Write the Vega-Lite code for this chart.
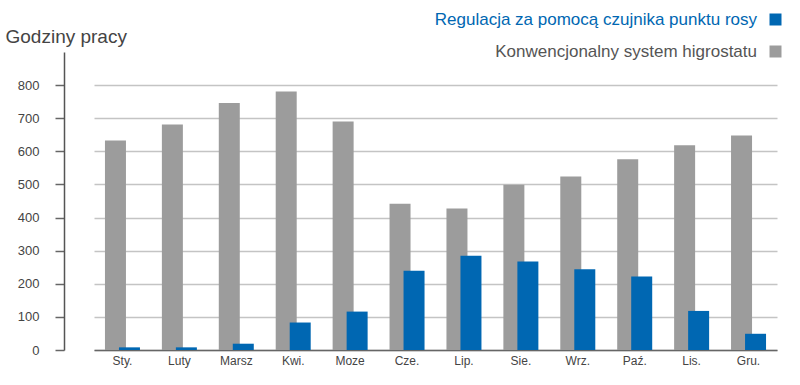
{
  "$schema": "https://vega.github.io/schema/vega-lite/v6.json",
  "autosize": {"type": "none"},
  "width": 719,
  "height": 298,
  "padding": {"left": 64, "top": 52, "right": 17, "bottom": 35},
  "background": "white",
  "config": {
    "font": "Liberation Sans",
    "view": {"stroke": null},
    "axisX": {"grid": false, "gridOpacity": 0}
  },
  "data": {
    "values": [
      {"month": "Sty.", "series": "Konwencjonalny system higrostatu", "value": 633},
      {"month": "Luty", "series": "Konwencjonalny system higrostatu", "value": 681},
      {"month": "Marsz", "series": "Konwencjonalny system higrostatu", "value": 746},
      {"month": "Kwi.", "series": "Konwencjonalny system higrostatu", "value": 781},
      {"month": "Moze", "series": "Konwencjonalny system higrostatu", "value": 690},
      {"month": "Cze.", "series": "Konwencjonalny system higrostatu", "value": 442},
      {"month": "Lip.", "series": "Konwencjonalny system higrostatu", "value": 427},
      {"month": "Sie.", "series": "Konwencjonalny system higrostatu", "value": 499},
      {"month": "Wrz.", "series": "Konwencjonalny system higrostatu", "value": 524},
      {"month": "Paź.", "series": "Konwencjonalny system higrostatu", "value": 576},
      {"month": "Lis.", "series": "Konwencjonalny system higrostatu", "value": 618},
      {"month": "Gru.", "series": "Konwencjonalny system higrostatu", "value": 648},
      {"month": "Sty.", "series": "Regulacja za pomocą czujnika punktu rosy", "value": 8},
      {"month": "Luty", "series": "Regulacja za pomocą czujnika punktu rosy", "value": 8},
      {"month": "Marsz", "series": "Regulacja za pomocą czujnika punktu rosy", "value": 19},
      {"month": "Kwi.", "series": "Regulacja za pomocą czujnika punktu rosy", "value": 83},
      {"month": "Moze", "series": "Regulacja za pomocą czujnika punktu rosy", "value": 116},
      {"month": "Cze.", "series": "Regulacja za pomocą czujnika punktu rosy", "value": 239},
      {"month": "Lip.", "series": "Regulacja za pomocą czujnika punktu rosy", "value": 285},
      {"month": "Sie.", "series": "Regulacja za pomocą czujnika punktu rosy", "value": 267},
      {"month": "Wrz.", "series": "Regulacja za pomocą czujnika punktu rosy", "value": 244},
      {"month": "Paź.", "series": "Regulacja za pomocą czujnika punktu rosy", "value": 222},
      {"month": "Lis.", "series": "Regulacja za pomocą czujnika punktu rosy", "value": 118},
      {"month": "Gru.", "series": "Regulacja za pomocą czujnika punktu rosy", "value": 49}
    ]
  },
  "encoding": {
    "x": {
      "field": "month",
      "type": "nominal",
      "sort": null,
      "scale": {"range": [30, 713], "paddingInner": 0, "paddingOuter": 0},
      "axis": {
        "title": null,
        "labelAngle": 0,
        "labelFontSize": 12,
        "labelColor": "#444444",
        "labelPadding": 5,
        "ticks": false,
        "domainColor": "#666666",
        "domainWidth": 1.5,
        "grid": false,
        "gridOpacity": 0
      }
    },
    "y": {
      "field": "value",
      "type": "quantitative",
      "scale": {"domain": [0, 900], "nice": false},
      "axis": {
        "values": [0, 100, 200, 300, 400, 500, 600, 700, 800],
        "title": "Godziny pracy",
        "titleAngle": 0,
        "titleAlign": "left",
        "titleBaseline": "alphabetic",
        "titleX": -59,
        "titleY": -10,
        "titleFontSize": 19,
        "titleFontWeight": "normal",
        "titleColor": "#444444",
        "labelFontSize": 13,
        "labelColor": "#444444",
        "labelPadding": 16,
        "tickSize": 9,
        "tickColor": "#666666",
        "tickWidth": 1.5,
        "domainColor": "#555555",
        "domainWidth": 1.5,
        "grid": true,
        "gridColor": "#c4c4c4",
        "gridWidth": 1.5
      }
    },
    "color": {
      "field": "series",
      "type": "nominal",
      "scale": {
        "domain": ["Regulacja za pomocą czujnika punktu rosy", "Konwencjonalny system higrostatu"],
        "range": ["#0067b2", "#9c9c9c"]
      },
      "legend": {
        "title": null,
        "orient": "none",
        "legendX": 703,
        "legendY": -41,
        "direction": "vertical",
        "padding": 0,
        "symbolType": "square",
        "symbolSize": 144,
        "symbolStrokeWidth": 0,
        "symbolOpacity": 1,
        "labelFontSize": 17,
        "labelAlign": "right",
        "labelOffset": -27,
        "labelLimit": 500,
        "rowPadding": 14,
        "encode": {
          "labels": {
            "update": {
              "fill": {"signal": "datum.value == 'Regulacja za pomocą czujnika punktu rosy' ? '#0067b2' : '#555555'"}
            }
          }
        }
      }
    }
  },
  "layer": [
    {
      "transform": [{"filter": "datum.series == 'Konwencjonalny system higrostatu'"}],
      "mark": {"type": "bar", "width": 21, "xOffset": -7}
    },
    {
      "transform": [{"filter": "datum.series == 'Regulacja za pomocą czujnika punktu rosy'"}],
      "mark": {"type": "bar", "width": 21, "xOffset": 7}
    }
  ]
}
